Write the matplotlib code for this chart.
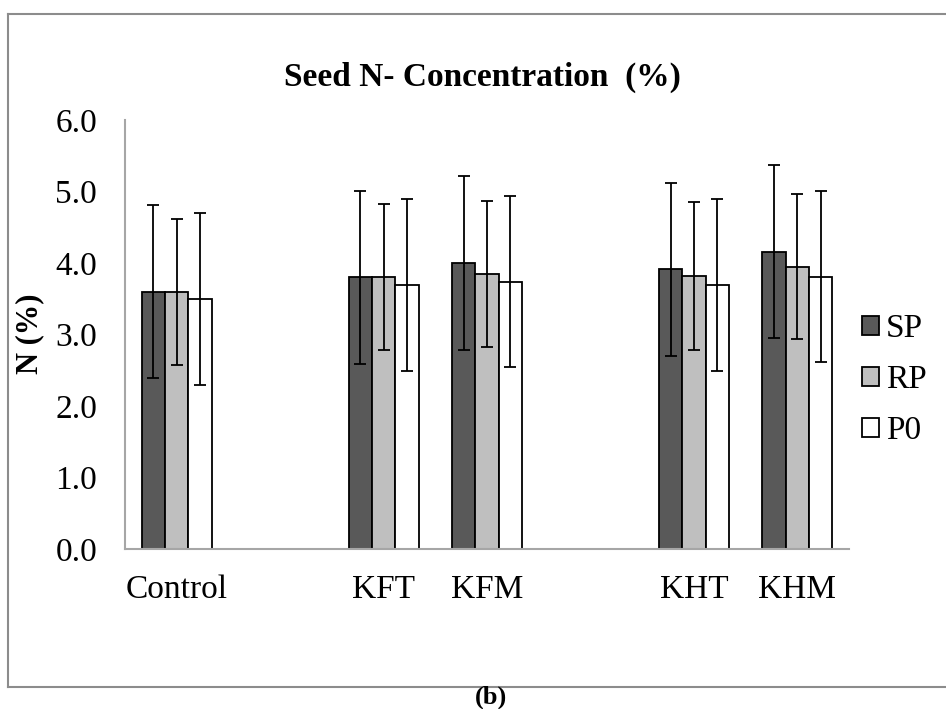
import numpy as np
import matplotlib
matplotlib.use('Agg')
import matplotlib.pyplot as plt
from matplotlib.lines import Line2D
from matplotlib.patches import Patch

plt.rcParams['font.family'] = ['Liberation Serif', 'DejaVu Serif']

# slots on the category axis, blanks are empty slots
slots = ['Control', '', 'KFT', 'KFM', '', 'KHT', 'KHM']
groups = ['Control', 'KFT', 'KFM', 'KHT', 'KHM']

sp = [3.60, 3.80, 4.00, 3.91, 4.16]
rp = [3.60, 3.80, 3.85, 3.82, 3.95]
p0 = [3.50, 3.69, 3.74, 3.69, 3.81]
sp_err = [1.21, 1.21, 1.21, 1.21, 1.21]
rp_err = [1.02, 1.02, 1.02, 1.03, 1.01]
p0_err = [1.20, 1.20, 1.20, 1.20, 1.20]

W, H = 946, 709
fig = plt.figure(figsize=(W / 100, H / 100), dpi=100)
fig.patch.set_facecolor('white')

ax = fig.add_axes([125 / W, 1 - 549 / H, (849 - 125) / W, (549 - 120) / H])

pos = np.array([slots.index(g) for g in groups])
w = 1 / (3 + 1.43)

kw = dict(edgecolor='black', linewidth=1.3, zorder=2,
          error_kw=dict(ecolor='black', elinewidth=1.3, capsize=4, capthick=1.3))
ax.bar(pos - w, sp, w, yerr=sp_err, color='#595959', label='SP', **kw)
ax.bar(pos, rp, w, yerr=rp_err, color='#bfbfbf', label='RP', **kw)
ax.bar(pos + w, p0, w, yerr=p0_err, color='white', label='P0', **kw)

ax.set_xlim(-0.5, len(slots) - 0.5)
ax.set_ylim(0, 6)
ax.set_yticks(np.arange(0, 6.1, 1.0))
ax.set_yticklabels(['%.1f' % v for v in np.arange(0, 6.1, 1.0)])
ax.set_xticks(range(len(slots)))
ax.set_xticklabels(slots)
ax.tick_params(axis='y', length=0, pad=20, labelsize=24, colors='black')
ax.tick_params(axis='x', length=0, pad=18, labelsize=24, colors='black')

for s in ['top', 'right']:
    ax.spines[s].set_visible(False)
for s in ['left', 'bottom']:
    ax.spines[s].set_color('#a6a6a6')
    ax.spines[s].set_linewidth(1.5)

fig.text(30 / W, 1 - 334 / H, 'N (%)', rotation=90, ha='center', va='center',
         fontsize=22, fontweight='bold')
fig.text(482 / W, 1 - 77 / H, 'Seed N- Concentration  (%)', ha='center',
         va='center', fontsize=24, fontweight='bold')
fig.text(491 / W, 1 - 697 / H, '(b)', ha='center', va='center',
         fontsize=19, fontweight='bold')

handles = [Patch(facecolor=c, edgecolor='black', linewidth=1.3)
           for c in ['#595959', '#bfbfbf', 'white']]
fig.legend(handles, ['SP', 'RP', 'P0'], loc='center left',
           bbox_to_anchor=(862 / W, 1 - 380 / H), frameon=False,
           fontsize=24, handlelength=0.52, handleheight=0.52,
           handletextpad=0.2, labelspacing=0.62, borderpad=0, borderaxespad=0)

# outer chart border (left, top, bottom)
bc = '#8c8c8c'
fig.add_artist(Line2D([8 / W, 8 / W], [1 - 14 / H, 1 - 687 / H], color=bc, lw=1.5))
fig.add_artist(Line2D([8 / W, 1], [1 - 14 / H, 1 - 14 / H], color=bc, lw=1.5))
fig.add_artist(Line2D([8 / W, 1], [1 - 687 / H, 1 - 687 / H], color=bc, lw=1.5))

fig.savefig('out.png', dpi=100)
